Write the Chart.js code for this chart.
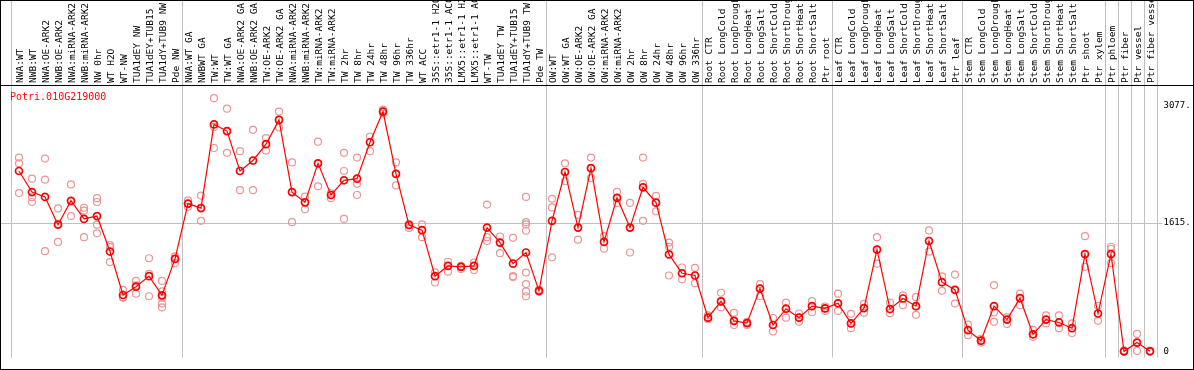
<!DOCTYPE html>
<html>
<head>
<meta charset="utf-8">
<script src="https://cdn.jsdelivr.net/npm/chart.js@4"></script>
<style>
  html, body { margin: 0; padding: 0; background: #fff; }
  canvas { display: block; }
</style>
</head>
<body>
<canvas id="exprChart" width="1194" height="370"></canvas>
<script>
const geneId = 'Potri.010G219000';

const categories = [
    'NWA:WT', 'NWB:WT', 'NWA:OE-ARK2', 'NWB:OE-ARK2', 'NWA:miRNA-ARK2', 'NWB:miRNA-ARK2',
    'NW 0hr', 'WT H2O', 'WT-NW', 'TUA1dEY NW', 'TUA1dEY+TUB15', 'TUA1dY+TUB9 NW', 'Pde NW',
    'NWA:WT GA', 'NWBWT GA', 'TW:WT', 'TW:WT GA', 'NWA:OE-ARK2 GA', 'NWB:OE-ARK2 GA',
    'TW:OE-ARK2', 'TW:OE-ARK2 GA', 'NWA:miRNA-ARK2', 'NWB:miRNA-ARK2', 'TW:miRNA-ARK2',
    'TW:miRNA-ARK2', 'TW 2hr', 'TW 8hr', 'TW 24hr', 'TW 48hr', 'TW 96hr', 'TW 336hr', 'WT ACC',
    '35S::etr1-1 H2O', '35S::etr1-1 ACC', 'LMX5::etr1-1 H2O', 'LMX5::etr1-1 ACC', 'WT-TW',
    'TUA1dEY TW', 'TUA1dEY+TUB15', 'TUA1dY+TUB9 TW', 'Pde TW',
    'OW:WT', 'OW:WT GA', 'OW:OE-ARK2', 'OW:OE-ARK2 GA', 'OW:miRNA-ARK2', 'OW:miRNA-ARK2',
    'OW 2hr', 'OW 8hr', 'OW 24hr', 'OW 48hr', 'OW 96hr', 'OW 336hr',
    'Root CTR', 'Root LongCold', 'Root LongDrought', 'Root LongHeat', 'Root LongSalt',
    'Root ShortCold', 'Root ShortDrought', 'Root ShortHeat', 'Root ShortSalt', 'Ptr root',
    'Leaf CTR', 'Leaf LongCold', 'Leaf LongDrought', 'Leaf LongHeat', 'Leaf LongSalt',
    'Leaf ShortCold', 'Leaf ShortDrought', 'Leaf ShortHeat', 'Leaf ShortSalt', 'Ptr leaf',
    'Stem CTR', 'Stem LongCold', 'Stem LongDrought', 'Stem LongHeat', 'Stem LongSalt',
    'Stem ShortCold', 'Stem ShortDrought', 'Stem ShortHeat', 'Stem ShortSalt', 'Ptr shoot',
    'Ptr xylem', 'Ptr phloem', 'Ptr fiber', 'Ptr vessel', 'Ptr fiber vessel'
];

const means = [
    2260, 1996, 1936, 1588, 1888, 1660, 1696, 1252, 708, 812, 944, 704, 1160,
    1852, 1796, 2844, 2760, 2260, 2392, 2596, 2900, 1996, 1868, 2356, 1960, 2144, 2164,
    2620, 3004, 2224, 1584, 1520, 944, 1072, 1060, 1072, 1552, 1364, 1100, 1240, 760,
    1636, 2248, 1552, 2296, 1372, 1924, 1552, 2056, 1864, 1216, 980, 952,
    424, 628, 384, 356, 788, 332, 536, 424, 568, 540,
    604, 352, 544, 1276, 532, 664, 568, 1384, 868, 772,
    268, 136, 568, 400, 668, 216, 400, 364, 292, 1220, 476,
    1220, 2, 112, 3
];

const replicates = [
    [2428, 2356, 1984], [2164, 1932, 1872], [2416, 2152, 1256], [1792, 1600, 1372],
    [2092, 1876, 1696], [1800, 1764, 1432], [1920, 1872, 1588, 1480], [1332, 1308, 1120],
    [772, 680, 672], [884, 828, 724], [1168, 972, 692], [884, 752, 700, 672, 600, 552],
    [1192, 1160, 1104],
    [1892, 1852, 1812], [1952, 1800, 1636], [3172, 2812, 2548], [3040, 2760, 2488],
    [2508, 2260, 2020], [2776, 2392, 2020], [2672, 2596, 2516], [3004, 2900, 2804],
    [2368, 1996, 1620], [1940, 1868, 1780], [2628, 2356, 2068], [1980, 1960, 1920],
    [2488, 2260, 1660], [2428, 2100, 1960], [2692, 2620, 2508], [3028, 3004, 2980],
    [2368, 2224, 2080], [1600, 1584, 1548], [1592, 1520, 1432], [992, 944, 864],
    [1124, 1072, 1000], [1072, 1060, 1032], [1112, 1072, 1020], [1840, 1432, 1384],
    [1440, 1364, 1232], [1424, 944, 932], [1936, 1620, 1592, 1512, 988, 844, 752, 692],
    [772, 760, 748],
    [1912, 1804, 1180], [2356, 2248, 2132], [1712, 1552, 1400], [2428, 2296, 2172],
    [1444, 1372, 1288], [2000, 1924, 1860], [1860, 1552, 1240], [2428, 2100, 1636],
    [1948, 1864, 1756], [1364, 1312, 952], [1052, 980, 904], [1048, 952, 856],
    [452, 424, 404], [736, 628, 552], [484, 384, 332], [372, 356, 332], [844, 788, 692],
    [420, 332, 252], [612, 536, 424], [476, 424, 372], [632, 568, 492], [564, 540, 508],
    [724, 604, 508], [472, 352, 292], [596, 544, 484], [1432, 1276, 1100], [612, 532, 480],
    [704, 664, 580], [680, 568, 460], [1516, 1384, 1252], [940, 868, 760], [964, 772, 600],
    [336, 268, 204], [160, 136, 112], [832, 492, 372], [432, 400, 344], [724, 668, 580],
    [272, 216, 184], [452, 400, 352], [452, 364, 292], [352, 292, 232], [1444, 1220, 1060],
    [572, 476, 384],
    [1312, 1284, 1220, 1108], [16, 4, 0], [220, 112, 8], [12, 0, 0]
];

// category index where each separator line sits (left edge of that category)
const groupEdges = [0, 13, 41, 53, 63, 73, 84, 85, 86, 87, 88];
const yTicks = [0, 1615, 3077];
const refLine = 1615;

document.addEventListener('DOMContentLoaded', function () {
    const monoFont = "'DejaVu Sans Mono', 'Liberation Mono', monospace";

    const meanPoints = means.map((v, i) => ({ x: i, y: v }));
    const repPoints = [];
    replicates.forEach((reps, i) => {
        reps.forEach(v => repPoints.push({ x: i, y: v }));
    });

    const decor = {
        id: 'decor',
        beforeDatasetsDraw(chart) {
            const { ctx, chartArea, scales: { x, y } } = chart;
            ctx.save();
            ctx.strokeStyle = '#c0c0c0';
            ctx.lineWidth = 1;
            groupEdges.forEach(e => {
                let px = Math.round(x.getPixelForValue(e - 0.5)) + 0.5;
                if (e === 0) px -= 2;
                ctx.beginPath();
                ctx.moveTo(px, 0);
                ctx.lineTo(px, chartArea.bottom);
                ctx.stroke();
            });
            const py = Math.round(y.getPixelForValue(refLine)) + 0.5;
            ctx.beginPath();
            ctx.moveTo(1, py);
            ctx.lineTo(chartArea.right + 6, py);
            ctx.stroke();
            ctx.restore();
        },
        afterDraw(chart) {
            const { ctx, chartArea, width, height } = chart;
            ctx.save();
            ctx.strokeStyle = '#000';
            ctx.lineWidth = 1;
            ctx.strokeRect(0.5, 0.5, width - 1, height - 1);
            ctx.beginPath();
            ctx.moveTo(0, chartArea.top + 0.5);
            ctx.lineTo(width, chartArea.top + 0.5);
            ctx.stroke();
            ctx.fillStyle = '#ff0000';
            ctx.font = '10px ' + monoFont;
            ctx.textBaseline = 'middle';
            ctx.fillText(geneId, 10, chartArea.top + 12);
            ctx.restore();
        }
    };

    const ctx = document.getElementById('exprChart').getContext('2d');
    new Chart(ctx, {
        type: 'line',
        data: {
            datasets: [{
                label: 'mean',
                data: meanPoints,
                borderColor: '#ff0000',
                borderWidth: 1.2,
                pointRadius: 3.5,
                pointBorderWidth: 1.7,
                pointBorderColor: '#ff0000',
                pointBackgroundColor: 'rgba(0,0,0,0)',
                tension: 0,
                fill: false
            }, {
                label: 'replicates',
                type: 'scatter',
                data: repPoints,
                showLine: false,
                pointRadius: 3.5,
                pointBorderWidth: 1.2,
                pointBorderColor: '#eb9696',
                pointBackgroundColor: 'rgba(0,0,0,0)'
            }]
        },
        options: {
            responsive: false,
            animation: false,
            devicePixelRatio: 1,
            layout: { padding: { left: 12.5, right: 0, top: 0, bottom: 1 } },
            plugins: {
                legend: { display: false },
                tooltip: { enabled: false }
            },
            scales: {
                x: {
                    type: 'linear',
                    position: 'top',
                    min: -0.5,
                    max: categories.length - 0.5,
                    afterBuildTicks: s => { s.ticks = categories.map((c, i) => ({ value: i })); },
                    afterFit: s => { s.height = 85; },
                    grid: { display: false, drawTicks: false },
                    border: { display: false },
                    ticks: {
                        autoSkip: false,
                        minRotation: 90,
                        maxRotation: 90,
                        padding: 2,
                        labelOffset: 12.5,
                        color: '#000',
                        font: { family: monoFont, size: 9.5 },
                        callback: v => categories[v]
                    }
                },
                y: {
                    position: 'right',
                    min: -76,
                    max: 3337,
                    afterBuildTicks: s => { s.ticks = yTicks.map(v => ({ value: v })); },
                    afterFit: s => { s.width = 37.5; },
                    grid: { display: false, drawTicks: false },
                    border: { display: false },
                    ticks: {
                        crossAlign: 'near',
                        padding: 7,
                        color: '#000',
                        font: { family: monoFont, size: 9 },
                        callback: v => (v === 0 ? '0' : v + '.')
                    }
                }
            }
        },
        plugins: [decor]
    });
});
</script>
</body>
</html>
